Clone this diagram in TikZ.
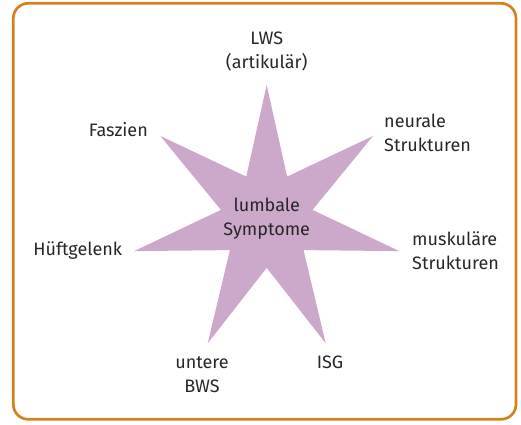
\documentclass[tikz,border=0pt]{standalone}
\usepackage{fontspec}
\setmainfont{Fira Sans}
\definecolor{frameor}{RGB}{212,130,32}
\definecolor{starpink}{RGB}{204,168,202}
\definecolor{txt}{RGB}{40,38,40}
\begin{document}
\begin{tikzpicture}[x=1pt,y=-1pt,
  lbl/.style={text=txt,inner sep=0pt,font=\fontsize{18}{24}\selectfont,align=center},
  lbll/.style={lbl,align=left,anchor=west}]
\useasboundingbox (0,0) rectangle (521,424);
\draw[frameor,line width=2.7pt,rounded corners=15pt] (13.3,3.3) rectangle (516,419.3);
\fill[starpink] (266.7,84.8) -- (287.1,176.6) -- (373.0,136.0) -- (312.5,209.9) -- (399.3,251.1) -- (303.5,250.1) -- (325.7,343.3) -- (266.7,267.8) -- (207.7,343.3) -- (229.9,250.1) -- (134.1,251.1) -- (220.9,209.9) -- (160.4,136.0) -- (246.3,176.6) -- cycle;
\node[lbl] (center) at (266.7,218.7) {lumbale\\Symptome};
\node[lbl] (lws) at (266.7,51) {LWS\\(artikulär)};
\node[lbl] (fasz) at (118.3,130) {Faszien};
\node[lbll] (neur) at (384,132.5) {neurale\\Strukturen};
\node[lbll] (musk) at (412,250.7) {muskuläre\\Strukturen};
\node[lbl] (huef) at (77.8,250) {Hüftgelenk};
\node[lbl] (bws) at (202,374.7) {untere\\BWS};
\node[lbl] (isg) at (330,362.7) {ISG};
\end{tikzpicture}
\end{document}
